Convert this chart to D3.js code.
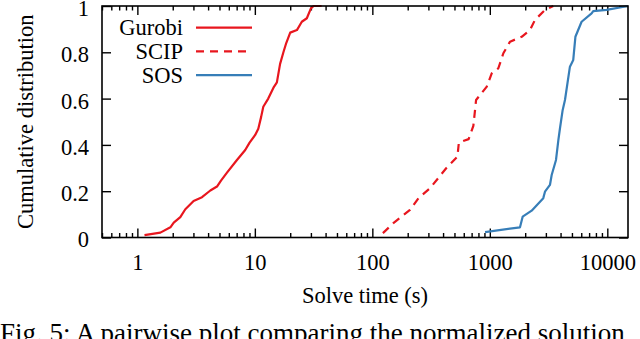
<!DOCTYPE html>
<html>
<head>
<meta charset="utf-8">
<script src="https://cdn.jsdelivr.net/npm/d3@7"></script>
<style>
  body { margin: 0; background: #fff; }
  svg text { font-family: "Liberation Serif", "Times New Roman", serif !important; fill: #000; }
</style>
</head>
<body>
<svg width="640" height="339"></svg>
<script>

// solve times (s) and cumulative fraction for each solver
let gurobiTime = [1.15, 1.57, 1.91, 2.04, 2.32, 2.56, 3.01, 3.55, 4.18, 4.76, 5.15, 5.79, 7.04, 8.28, 9.02, 10.07, 10.7, 11.3, 11.8, 13.0, 14.5, 15.4, 16.4, 17.5, 18.5, 20.0, 22.8, 25.1, 27.7, 30.0, 31.6, 37];
let gurobiCdf  = [0.01, 0.021, 0.044, 0.064, 0.088, 0.122, 0.158, 0.174, 0.203, 0.22, 0.246, 0.28, 0.335, 0.378, 0.41, 0.443, 0.47, 0.52, 0.565, 0.6, 0.65, 0.67, 0.75, 0.8, 0.84, 0.885, 0.896, 0.932, 0.947, 0.99, 1, 1];

let scipTime = [123, 151, 209, 247, 310, 425, 530, 545, 660, 724, 764, 942, 1038, 1182, 1304, 1486, 1867, 2197, 2423, 2947, 3467];
let scipCdf  = [0.019, 0.062, 0.119, 0.17, 0.213, 0.299, 0.349, 0.41, 0.425, 0.482, 0.594, 0.652, 0.709, 0.731, 0.796, 0.846, 0.867, 0.896, 0.94, 0.983, 1];

let sosTime = [911, 1806, 1903, 2270, 2851, 2947, 3249, 3361, 3658, 3831, 3955, 4170, 4362, 4806, 5130, 5350, 6040, 7350, 7590, 9860, 15000];
let sosCdf  = [0.023, 0.044, 0.09, 0.116, 0.17, 0.198, 0.227, 0.27, 0.335, 0.421, 0.472, 0.551, 0.594, 0.738, 0.767, 0.867, 0.932, 0.968, 0.978, 0.983, 1];

let names = ['Gurobi', 'SCIP', 'SOS'];
let xMajor = [1, 10, 100, 1000, 10000];
let yTicks = [0, 0.2, 0.4, 0.6, 0.8, 1];

let svg = d3.select('svg');
let margin = { top: 6, right: 12, bottom: 101.5, left: 102 };
let width = +svg.attr('width');
let height = +svg.attr('height');
let fontSize = 22.5;
let serif = '"Liberation Serif", "Times New Roman", serif';

let x = d3.scaleLog()
    .domain([0.5, 15000])
    .range([margin.left, width - margin.right]);

let y = d3.scaleLinear()
    .domain([0, 1])
    .range([height - margin.bottom, margin.top]);

// minor ticks 2..9 of each decade, inside the range
let xMinor = [];
[0.1, 1, 10, 100, 1000, 10000].forEach(d => {
    for (let k = 2; k <= 9; k++) {
        let v = d * k;
        if (v >= 0.5 && v <= 15000 && !xMajor.includes(v)) xMinor.push(v);
    }
});

let series = [
    { name: names[0], t: gurobiTime, c: gurobiCdf, color: '#e8161e', dash: null },
    { name: names[1], t: scipTime, c: scipCdf, color: '#e8161e', dash: '8,6' },
    { name: names[2], t: sosTime, c: sosCdf, color: '#377eb8', dash: null }
];

function styleAxis(g) {
    g.attr('font-family', serif).attr('font-size', fontSize);
    g.select('.domain').remove();
    g.selectAll('line').attr('stroke', '#000').attr('stroke-width', 1.4);
    g.selectAll('text')
        .style('font-family', serif)
        .style('font-size', fontSize + 'px')
        .attr('fill', '#000');
}

let bottomY = y(0), topY = y(1);

// bottom and top, minor then major, ticks pointing inward
svg.append('g')
    .attr('transform', 'translate(0,' + bottomY + ')')
    .call(d3.axisBottom(x).tickValues(xMinor).tickSize(-4.5).tickFormat(''))
    .call(styleAxis);
svg.append('g')
    .attr('transform', 'translate(0,' + bottomY + ')')
    .call(d3.axisBottom(x).tickValues(xMajor).tickSize(-9).tickPadding(17).tickFormat(d3.format('d')))
    .call(styleAxis);
svg.append('g')
    .attr('transform', 'translate(0,' + topY + ')')
    .call(d3.axisTop(x).tickValues(xMinor).tickSize(-4.5).tickFormat(''))
    .call(styleAxis);
svg.append('g')
    .attr('transform', 'translate(0,' + topY + ')')
    .call(d3.axisTop(x).tickValues(xMajor).tickSize(-9).tickFormat(''))
    .call(styleAxis);

svg.append('g')
    .attr('transform', 'translate(' + margin.left + ',0)')
    .call(d3.axisLeft(y).tickValues(yTicks).tickSize(-9).tickPadding(13).tickFormat(d => d3.format('~g')(d)))
    .call(styleAxis)
    .selectAll('text').attr('dy', '0.42em');
svg.append('g')
    .attr('transform', 'translate(' + (width - margin.right) + ',0)')
    .call(d3.axisRight(y).tickValues(yTicks).tickSize(-9).tickFormat(''))
    .call(styleAxis);

// curves
let line = d3.line()
    .x(d => x(d[0]))
    .y(d => y(d[1]));

series.forEach(s => {
    svg.append('path')
        .datum(d3.zip(s.t, s.c))
        .attr('fill', 'none')
        .attr('stroke', s.color)
        .attr('stroke-width', 2.2)
        .attr('stroke-linejoin', 'round')
        .attr('stroke-dasharray', s.dash)
        .attr('d', line);
});

// frame
svg.append('rect')
    .attr('x', margin.left)
    .attr('y', topY)
    .attr('width', width - margin.right - margin.left)
    .attr('height', bottomY - topY)
    .attr('fill', 'none')
    .attr('stroke', '#000')
    .attr('stroke-width', 1.6);

// legend
let legend = svg.selectAll('.legend')
    .data(series)
    .enter().append('g')
    .attr('transform', (d, i) => 'translate(0,' + (27.7 + i * 23.7) + ')');

legend.append('text')
    .attr('x', 183)
    .attr('y', 7.5)
    .attr('text-anchor', 'end')
    .style('font-family', serif)
    .style('font-size', fontSize + 'px')
    .text(d => d.name);

legend.append('line')
    .attr('x1', 196)
    .attr('x2', 252)
    .attr('stroke', d => d.color)
    .attr('stroke-width', 2.2)
    .attr('stroke-dasharray', d => d.dash);

// axis titles
svg.append('text')
    .attr('text-anchor', 'middle')
    .attr('transform', 'translate(33,' + ((topY + bottomY) / 2) + ')rotate(-90)')
    .style('font-family', serif)
    .style('font-size', fontSize + 'px')
    .text('Cumulative distribution');

svg.append('text')
    .attr('text-anchor', 'middle')
    .attr('x', (margin.left + width - margin.right) / 2)
    .attr('y', 303)
    .style('font-family', serif)
    .style('font-size', fontSize + 'px')
    .text('Solve time (s)');

// caption, cut off at the bottom edge
svg.append('text')
    .attr('x', 0)
    .attr('y', 342)
    .style('font-family', serif)
    .style('font-size', '27px')
    .text('Fig. 5: A pairwise plot comparing the normalized solution');

</script>
</body>
</html>
